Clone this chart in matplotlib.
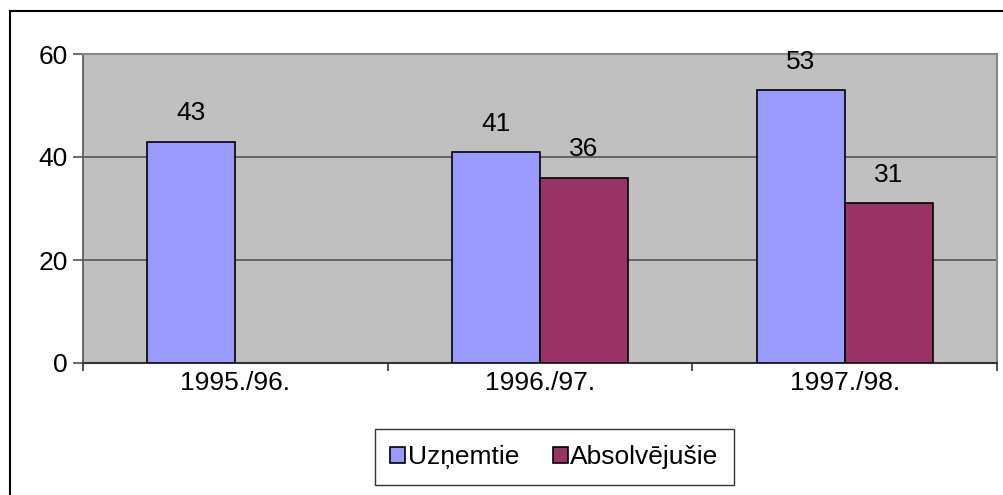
import numpy as np
import matplotlib
matplotlib.use("Agg")
import matplotlib.pyplot as plt
from matplotlib.patches import Rectangle

plt.rcParams['font.family'] = ['Liberation Sans', 'DejaVu Sans']

# dati
gadi = ['1995./96.', '1996./97.', '1997./98.']
uznemtie = [43, 41, 53]
absolvejusie = [np.nan, 36, 31]
y_ticks = [0, 20, 40, 60]

FS = 19

fig = plt.figure(figsize=(10.04, 4.95), dpi=100)
ax = fig.add_axes([83 / 1004, 1 - 363 / 495, (997 - 83) / 1004, (363 - 54) / 495])
ax.set_facecolor('#C0C0C0')

x = np.arange(len(gadi))
w = 0.289
ax.bar(x - w / 2, uznemtie, w, color='#9999FF', edgecolor='black', linewidth=1.2,
       label='Uzņemtie', zorder=3)
ax.bar(x + w / 2, absolvejusie, w, color='#993366', edgecolor='black', linewidth=1.2,
       label='Absolvējušie', zorder=3)

# vērtības virs stabiņiem
for xi, v in zip(x - w / 2, uznemtie):
    ax.text(xi, v + 4.1, f'{v:g}', ha='center', va='baseline', fontsize=FS)
for xi, v in zip(x + w / 2, absolvejusie):
    if not np.isnan(v):
        ax.text(xi, v + 4.1, f'{v:g}', ha='center', va='baseline', fontsize=FS)

ax.set_ylim(0, 60)
ax.set_xlim(-0.5, len(gadi) - 0.5)
ax.set_yticks(y_ticks)
ax.set_yticklabels([str(t) for t in y_ticks], fontsize=FS)
ax.yaxis.grid(True, color='#555555', linewidth=1.2, zorder=1)

# kategoriju iezīmes starp grupām
ax.set_xticks(x)
ax.set_xticklabels(gadi, fontsize=FS)
ax.tick_params(axis='x', length=0, pad=6)
ax.set_xticks(np.arange(-0.5, len(gadi)), minor=True)
ax.tick_params(axis='x', which='minor', length=6, width=1.2, color='#333333')
ax.tick_params(axis='y', length=7, width=1.2, color='#555555', pad=4)

for s in ['top', 'right']:
    ax.spines[s].set_color('#888888')
    ax.spines[s].set_linewidth(1.5)
ax.spines['left'].set_color('#555555')
ax.spines['bottom'].set_color('#333333')
ax.spines['left'].set_linewidth(1.2)
ax.spines['bottom'].set_linewidth(1.5)

leg = fig.legend(loc='center', bbox_to_anchor=(554.5 / 1004, 38 / 495), ncol=2,
                 fontsize=FS, frameon=True, fancybox=False, edgecolor='black',
                 handlelength=0.55, handleheight=0.55, handletextpad=0.1,
                 columnspacing=1.3, borderpad=0.6)
leg.get_frame().set_linewidth(1.0)

# attēla rāmis (augšā un pa kreisi)
fig.patches.append(Rectangle((10 / 1004, -0.1), 1.2, 1 - 11 / 495 + 0.1,
                             transform=fig.transFigure, fill=False,
                             edgecolor='black', linewidth=1.5))

fig.savefig('out.png', dpi=100)
